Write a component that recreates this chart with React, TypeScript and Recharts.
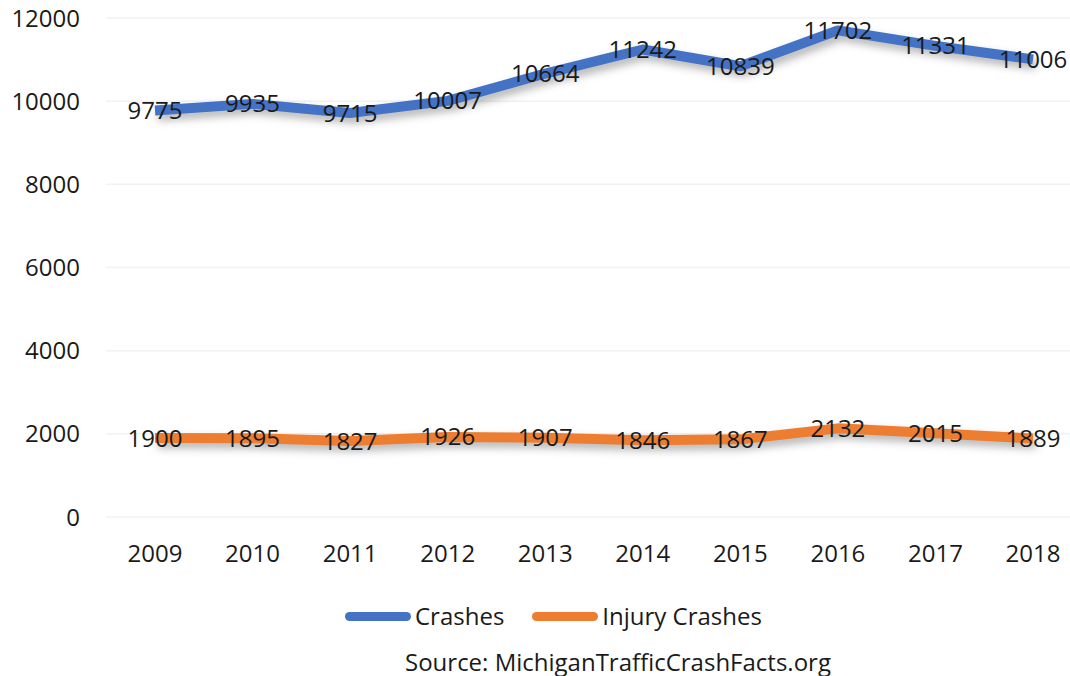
import React from 'react';
import { LineChart, Line, XAxis, YAxis, CartesianGrid, Legend, LabelList } from 'recharts';

const FONT = '"Open Sans", sans-serif';
const TEXT = '#1a1a1a';

const years = ['2009', '2010', '2011', '2012', '2013', '2014', '2015', '2016', '2017', '2018'];
const crashes = [9775, 9935, 9715, 10007, 10664, 11242, 10839, 11702, 11331, 11006];
const injuryCrashes = [1900, 1895, 1827, 1926, 1907, 1846, 1867, 2132, 2015, 1889];
const yTicks = [0, 2000, 4000, 6000, 8000, 10000, 12000];

const data = years.map((year, i) => ({
    year,
    crashes: crashes[i],
    injury: injuryCrashes[i],
}));

const COLORS = {
    crashes: '#4472c4',
    injury: '#ed7d31',
};

const tickStyle = { fontFamily: FONT, fontSize: 24, fill: TEXT };
const shadow = 'drop-shadow(3px 5px 4px rgba(0,0,0,0.3))';

const ChartLegend = ({ payload }: any) => (
    <div style={{ height: 99, position: 'relative', fontFamily: FONT, color: TEXT }}>
        <div
            style={{
                position: 'absolute',
                top: 22,
                left: 345,
                display: 'flex',
                alignItems: 'center',
                fontSize: 24,
                lineHeight: '34px',
            }}
        >
            {(payload || []).map((entry: any) => (
                <div key={entry.value} style={{ display: 'flex', alignItems: 'center', marginRight: 28 }}>
                    <span
                        style={{
                            display: 'inline-block',
                            width: 66,
                            height: 9,
                            borderRadius: 5,
                            background: entry.color,
                            marginRight: 4,
                        }}
                    />
                    <span>{entry.value}</span>
                </div>
            ))}
        </div>
        <div style={{ position: 'absolute', top: 72, left: 405, fontSize: 24, lineHeight: '26px', whiteSpace: 'nowrap' }}>
            Source: MichiganTrafficCrashFacts.org
        </div>
    </div>
);

const App: React.FC = () => {
    return (
        <div>
            <style>{'body { margin: 0; }'}</style>
            <LineChart
                width={1070}
                height={676}
                data={data}
                margin={{ top: 18, right: 0, bottom: 0, left: 0 }}
            >
                <CartesianGrid vertical={false} stroke="#f2f2f2" strokeWidth={1.5} />
                <XAxis
                    dataKey="year"
                    axisLine={false}
                    tickLine={false}
                    tickSize={0}
                    tickMargin={28}
                    height={60}
                    padding={{ left: 49, right: 37 }}
                    tick={tickStyle}
                />
                <YAxis
                    domain={[0, 12000]}
                    ticks={yTicks}
                    axisLine={false}
                    tickLine={false}
                    tickSize={0}
                    tickMargin={26}
                    width={106}
                    tick={tickStyle}
                />
                <Legend verticalAlign="bottom" content={<ChartLegend />} />
                <Line
                    type="linear"
                    dataKey="crashes"
                    name="Crashes"
                    stroke={COLORS.crashes}
                    strokeWidth={10}
                    strokeLinejoin="round"
                    dot={false}
                    activeDot={false}
                    filter={shadow}
                    isAnimationActive={false}
                >
                    <LabelList dataKey="crashes" position="center" style={tickStyle} />
                </Line>
                <Line
                    type="linear"
                    dataKey="injury"
                    name="Injury Crashes"
                    stroke={COLORS.injury}
                    strokeWidth={10}
                    strokeLinejoin="round"
                    dot={false}
                    activeDot={false}
                    filter={shadow}
                    isAnimationActive={false}
                >
                    <LabelList dataKey="injury" position="center" style={tickStyle} />
                </Line>
            </LineChart>
        </div>
    );
};

export default App;
